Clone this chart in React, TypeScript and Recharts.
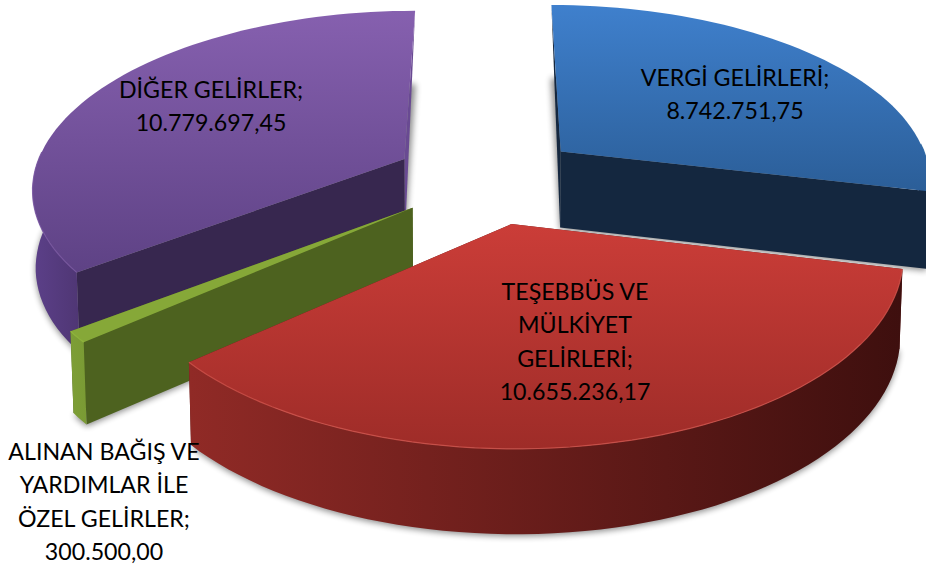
import React from 'react';
import { PieChart, Pie } from 'recharts';

// Listed from the purple slice so the pie can start on it (draw order matters here)
const categories = ['DİĞER GELİRLER', 'VERGİ GELİRLERİ', 'TEŞEBBÜS VE MÜLKİYET GELİRLERİ', 'ALINAN BAĞIŞ VE YARDIMLAR İLE ÖZEL GELİRLER'];
const values = [10779697.45, 8742751.75, 10655236.17, 300500.0];
const labelLines = [
  ['DİĞER GELİRLER;', '10.779.697,45'],
  ['VERGİ GELİRLERİ;', '8.742.751,75'],
  ['TEŞEBBÜS VE', 'MÜLKİYET', 'GELİRLERİ;', '10.655.236,17'],
  ['ALINAN BAĞIŞ VE', 'YARDIMLAR İLE', 'ÖZEL GELİRLER;', '300.500,00'],
];

const data = categories.map((name, i) => ({ name, value: values[i] }));
const total = values.reduce((a, b) => a + b, 0);
const START = 90 + (360 * values[0]) / total;

const CX = 488;
const CY = 178.7;
const RADIUS = 372;
const RY_RATIO = 176 / 372;
const PERSPECTIVE = 0.15;
const EXPLODE = 0.255;
const DEPTH = 77;

const labelPos = [
  { x: 211, y: 98 },
  { x: 735, y: 86 },
  { x: 575, y: 300 },
  { x: 104, y: 460 },
];

const sliceStyles = [
  { top: ['#8660af', '#5e4285'], rim: ['#5c4089', '#4f3674'], startWall: '#37274f', endWall: '#694a92', edge: '#7a58a3' },
  { top: ['#3f80cd', '#2b5e98'], rim: ['#14273f', '#14273f'], startWall: '#14273f', endWall: '#14273f', edge: '#2f6aa8' },
  { top: ['#cb3d38', '#9e2c28'], rim: ['#902a26', '#3e0f0e'], startWall: '#5a1715', endWall: '#5a1715', edge: '#d2544c' },
  { top: ['#86a838', '#86a838'], rim: ['#7d9e36', '#7a9a34'], startWall: '#4d621f', endWall: '#4d621f', edge: '#94bb3e' },
];

type Pt = { x: number; y: number };

const project = (cx: number, cy: number, r: number, u: number, v: number, z: number): Pt => {
  const w = 1 + PERSPECTIVE * v;
  return {
    x: cx + ((r * u) / w) * (1 - 0.007 * z),
    y: cy - (r * RY_RATIO * v) / w + (DEPTH * z) / Math.sqrt(w),
  };
};

const toLine = (pts: Pt[]) => pts.map((p, i) => `${i ? 'L' : 'M'}${p.x.toFixed(1)} ${p.y.toFixed(1)}`).join(' ');
const toPath = (pts: Pt[]) => toLine(pts) + ' Z';

// Draws one slice as an exploded 3D wedge from the angles the Pie worked out
const makeSlice = (only: number[]) => (props: any) => {
  const { cx, cy, outerRadius, startAngle, endAngle, index } = props;
  if (!only.includes(index)) return <g />;
  const st = sliceStyles[index];
  const rad = Math.PI / 180;
  const mid = ((startAngle + endAngle) / 2) * rad;
  const ou = EXPLODE * Math.cos(mid);
  const ov = EXPLODE * Math.sin(mid);
  const steps = Math.max(3, Math.ceil(Math.abs(endAngle - startAngle) / 2));
  const angles: number[] = [];
  for (let i = 0; i <= steps; i++) angles.push((startAngle + ((endAngle - startAngle) * i) / steps) * rad);
  const at = (a: number, z: number) => project(cx, cy, outerRadius, ou + Math.cos(a), ov + Math.sin(a), z);

  const top = angles.map((a) => at(a, 0));
  const bottom = angles.map((a) => at(a, 1));
  // only the part of the rim that faces the viewer
  const front = angles.filter((a) => Math.sin(a) <= 0.05);
  const rimTop = front.map((a) => at(a, 0));
  const rimBottom = front.map((a) => at(a, 1));
  const apexTop = project(cx, cy, outerRadius, ou, ov, 0);
  const apexBottom = project(cx, cy, outerRadius, ou, ov, 1);
  // a cut edge pointing to the back only shows as a sliver, so it stays a straight-edged triangle
  const wall = (a: number) =>
    Math.sin(a) > 0.5 ? [apexTop, at(a, 0), apexBottom] : [apexTop, at(a, 0), at(a, 1), apexBottom];
  const gTop = `top-${index}`;
  const gRim = `rim-${index}`;
  return (
    <g>
      <defs>
        <linearGradient id={gTop} x1="0" y1="0" x2="0" y2="1">
          <stop offset="0" stopColor={st.top[0]} />
          <stop offset="1" stopColor={st.top[1]} />
        </linearGradient>
        <linearGradient id={gRim} x1="0" y1="0" x2="1" y2="0">
          <stop offset="0" stopColor={st.rim[0]} />
          <stop offset="1" stopColor={st.rim[1]} />
        </linearGradient>
        <filter id={`blur-${index}`} x="-10%" y="-10%" width="120%" height="120%">
          <feGaussianBlur stdDeviation="3" />
        </filter>
      </defs>
      <path
        d={toPath([apexBottom, ...bottom])}
        fill="#000"
        opacity={0.45}
        filter={`url(#blur-${index})`}
        transform="translate(0 2)"
      />
      <path d={toPath(wall(angles[steps]))} fill={st.endWall} />
      <path d={toPath(wall(angles[0]))} fill={st.startWall} />
      {front.length > 1 && <path d={toPath([...rimTop, ...[...rimBottom].reverse()])} fill={`url(#${gRim})`} />}
      <path d={toPath([apexTop, ...top])} fill={`url(#${gTop})`} />
      {front.length > 1 && <path d={toLine(rimTop)} fill="none" stroke={st.edge} strokeWidth={1.2} opacity={0.8} />}
    </g>
  );
};

const renderLabel = (props: any) => {
  const { index } = props;
  const pos = labelPos[index];
  return (
    <text x={pos.x} y={pos.y} textAnchor="middle" fontFamily="Lato, 'Open Sans', sans-serif" fontSize={23.2} fill="#000">
      {labelLines[index].map((line, i) => (
        <tspan key={i} x={pos.x} dy={i ? 33.3 : 0}>
          {line}
        </tspan>
      ))}
    </text>
  );
};

export default function App() {
  return (
    <div style={{ position: 'absolute', left: 0, top: 0, width: 926, height: 567, background: '#fff' }}>
      <PieChart width={926} height={567} margin={{ top: 0, right: 0, bottom: 0, left: 0 }}>
        {/* red has to sit over green, but the slice order can't give that, so it gets its own pass */}
        <Pie
          data={data}
          dataKey="value"
          nameKey="name"
          cx={CX}
          cy={CY}
          outerRadius={RADIUS}
          startAngle={START}
          endAngle={START - 360}
          stroke="none"
          shape={makeSlice([0, 1, 3])}
          isAnimationActive={false}
        />
        <Pie
          data={data}
          dataKey="value"
          nameKey="name"
          cx={CX}
          cy={CY}
          outerRadius={RADIUS}
          startAngle={START}
          endAngle={START - 360}
          stroke="none"
          shape={makeSlice([2])}
          label={renderLabel}
          labelLine={false}
          isAnimationActive={false}
        />
      </PieChart>
    </div>
  );
}
